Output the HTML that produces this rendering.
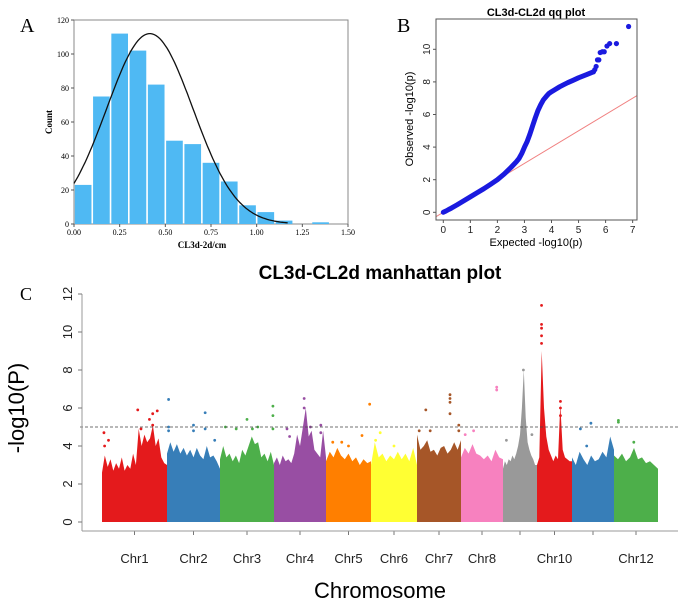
<!DOCTYPE html>
<html><head><meta charset="utf-8">
<style>
body{margin:0;background:#fff;width:685px;height:602px;overflow:hidden}
svg{display:block}
.ser{font-family:"Liberation Serif",serif}
.san{font-family:"Liberation Sans",sans-serif}
</style></head>
<body>
<svg id="fig" width="685" height="602" viewBox="0 0 685 602">
  <g id="panelA">
    <text class="ser" x="20" y="32" font-size="20">A</text>
    <rect x="74" y="20" width="274" height="204" fill="none" stroke="#888" stroke-width="1"/>
    <g id="histBars"></g>
    <path id="normCurve" fill="none" stroke="#111" stroke-width="1.3"/>
    <g id="histAxes" class="ser" font-size="8"></g>
    <text class="ser" x="52" y="122" font-size="9" font-weight="bold" text-anchor="middle" transform="rotate(-90 52 122)">Count</text>
    <text class="ser" x="202" y="248" font-size="9" font-weight="bold" text-anchor="middle">CL3d-2d/cm</text>
  </g>
  <g id="panelB">
    <text class="ser" x="397" y="32" font-size="20">B</text>
    <text class="san" x="536" y="16" font-size="11" font-weight="bold" text-anchor="middle">CL3d-CL2d qq plot</text>
    <clipPath id="qqclip"><rect x="436" y="19" width="201" height="201"/></clipPath>
    <line id="qqDiag" stroke="#f08080" stroke-width="1" clip-path="url(#qqclip)"/>
    <g id="qqPts"></g>
    <rect x="436" y="19" width="201" height="201" fill="none" stroke="#555" stroke-width="1"/>
    <g id="qqAxes" class="san" font-size="10" fill="#222"></g>
    <text class="san" x="413" y="119" font-size="11" text-anchor="middle" transform="rotate(-90 413 119)">Observed -log10(p)</text>
    <text class="san" x="536" y="246" font-size="11" text-anchor="middle">Expected -log10(p)</text>
  </g>
  <g id="panelC">
    <text class="ser" x="20" y="300" font-size="18">C</text>
    <text class="san" x="380" y="279" font-size="19" font-weight="bold" text-anchor="middle">CL3d-CL2d manhattan plot</text>
    <g id="manData"></g>
    <line x1="80" y1="427" x2="678" y2="427" stroke="#444" stroke-width="0.8" stroke-dasharray="3,2"/>
    <g id="manAxes" class="san" fill="#222"></g>
    <text class="san" x="24" y="408" font-size="22" text-anchor="middle" transform="rotate(-90 24 408)">-log10(P)</text>
    <text class="san" x="380" y="598" font-size="22" text-anchor="middle">Chromosome</text>
  </g>
</svg>
<script>
// ---- Panel A data ----
const histBinStarts = [0,0.1,0.2,0.3,0.4,0.5,0.6,0.7,0.8,0.9,1.0,1.1,1.2,1.3];
const histCounts = [23,75,112,102,82,49,47,36,25,11,7,2,0,1];
const histXTicks = ["0.00","0.25","0.50","0.75","1.00","1.25","1.50"];
const histYTicks = [0,20,40,60,80,100,120];
const normMean = 0.415, normSd = 0.236, normPeak = 112;

// ---- Panel B data ----
const qqExpected = [0,0.1,0.2,0.3,0.5,0.7,1,1.25,1.5,1.75,2,2.25,2.5,2.7,2.8,2.9,3,3.1,3.2,3.3,3.4,3.5,3.6,3.7,3.8,3.9,4,4.15,4.3,4.45,4.6,4.8,5,5.15,5.3,5.45,5.55,5.6,5.65,5.7,5.75,5.8,5.88,5.95,6.05,6.15,6.4,6.85];
const qqObserved = [0,0.08,0.17,0.26,0.45,0.65,0.95,1.2,1.45,1.72,2.0,2.35,2.75,3.1,3.3,3.6,4.0,4.35,4.8,5.3,5.8,6.25,6.6,6.9,7.1,7.28,7.4,7.55,7.7,7.83,7.95,8.1,8.25,8.35,8.45,8.55,8.62,8.75,8.95,9.35,9.35,9.8,9.85,9.85,10.2,10.35,10.35,11.4];
const qqXTicks = [0,1,2,3,4,5,6,7];
const qqYTicks = [0,2,4,6,8,10];

// ---- Panel C data ----
const chrNames = ["Chr1","Chr2","Chr3","Chr4","Chr5","Chr6","Chr7","Chr8","Chr9","Chr10","Chr11","Chr12"];
const chrLabelsShown = ["Chr1","Chr2","Chr3","Chr4","Chr5","Chr6","Chr7","Chr8","","Chr10","","Chr12"];
const chrLengths = [65,53,54,52,45,46,44,42,34,35,42,44];
const chrColors = ["#e41a1c","#377eb8","#4daf4a","#984ea3","#ff7f00","#ffff33","#a65628","#f781bf","#999999","#e41a1c","#377eb8","#4daf4a"];
const chrEnvelopes = [
 [2.6,3.5,2.9,3.3,2.7,3.1,2.8,3.4,2.7,3.0,2.8,3.6,3.0,4.9,4.0,4.6,4.2,4.4,5.1,4.0,4.4,3.4,3.1,3.0],
 [3.6,4.2,3.7,4.1,3.6,3.9,3.5,3.8,3.4,3.9,3.5,3.3,4.0,3.4,3.5,3.2,2.8],
 [3.3,4.0,3.4,3.6,3.2,3.5,3.1,3.8,3.5,4.0,4.5,4.1,4.2,3.4,3.6,3.2,3.7,3.0],
 [3.1,3.4,3.0,3.5,3.2,3.3,3.1,3.6,4.6,4.0,5.0,6.0,4.5,4.8,3.8,3.6,3.4,4.8,3.4],
 [3.2,3.7,3.4,3.9,3.5,3.3,3.6,3.2,3.4,3.0,3.3,3.1,3.2],
 [3.0,4.2,3.4,3.6,3.2,3.5,3.3,3.7,3.3,3.6,3.2,3.9,3.0],
 [4.6,3.8,4.0,4.3,3.7,3.8,3.5,3.9,4.0,3.6,3.8,4.2,3.8,4.3],
 [3.4,3.9,3.6,4.1,3.6,3.5,3.3,3.5,3.2,3.8,3.4,3.3],
 [2.8,3.2,3.0,3.3,3.2,3.5,3.3,3.6,4.0,4.6,6.0,8.0,5.5,4.2,3.8,3.5,3.3,3.0,3.0],
 [3.0,3.4,9.0,6.0,4.5,3.8,3.5,3.2,3.5,3.3,6.2,3.8,3.4,3.3,3.2,3.2],
 [3.4,3.0,3.7,3.3,3.0,3.5,3.2,3.3,3.7,3.4,4.5,3.8],
 [3.5,3.3,3.6,3.2,3.4,3.9,3.3,3.4,3.1,3.2,3.0,2.8]
];
const chrPeakPos = [
 [0.03,0.04,0.1,0.55,0.73,0.78,0.85,0.78,0.6],
 [0.03,0.03,0.03,0.5,0.5,0.72,0.72,0.9],
 [0.1,0.3,0.5,0.6,0.7,0.98,0.98,0.98],
 [0.25,0.3,0.58,0.58,0.7,0.9,0.9],
 [0.15,0.35,0.5,0.8,0.97],
 [0.1,0.2,0.5],
 [0.05,0.2,0.3,0.75,0.75,0.75,0.75,0.95,0.95],
 [0.1,0.3,0.85,0.85],
 [0.1,0.6,0.85],
 [0.13,0.13,0.13,0.13,0.13,0.2,0.67,0.67,0.67],
 [0.2,0.45,0.35],
 [0.1,0.1,0.45]
];
const chrPeakVal = [
 [4.7,4.0,4.3,5.9,5.4,5.7,5.85,5.1,4.9],
 [5.0,4.8,6.45,5.1,4.8,5.75,4.9,4.3],
 [5.0,4.9,5.4,4.9,5.0,6.1,5.6,4.9],
 [4.9,4.5,6.5,6.0,5.0,5.1,4.7],
 [4.2,4.2,4.0,4.55,6.2],
 [4.3,4.7,4.0],
 [4.8,5.9,4.8,6.7,6.5,6.3,5.7,5.1,4.8],
 [4.6,4.8,7.1,6.95],
 [4.3,8.0,4.6],
 [11.4,10.4,10.2,9.8,9.4,5.0,6.35,6.0,5.6],
 [4.9,5.2,4.0],
 [5.35,5.25,4.2]
];
const manYTicks = [0,2,4,6,8,10,12];

const NS = "http://www.w3.org/2000/svg";
function mk(tag, attrs, parent){ const e=document.createElementNS(NS,tag); for(const k in attrs) e.setAttribute(k,attrs[k]); parent.appendChild(e); return e; }

// ---- Panel A render ----
const ax = v => 74 + v/1.5*274;
const ay = v => 224 - v/120*204;
const hb = document.getElementById('histBars');
histCounts.forEach((c,i)=>{
  const r = mk('rect',{x:ax(histBinStarts[i])+0.8,y:ay(c),width:ax(0.1)-ax(0)-1.6,height:ay(0)-ay(c),fill:'#4fb9f3'},hb);
  
  
});
let d='';
for(let v=0; v<=1.18; v+=0.01){ const y=normPeak*Math.exp(-Math.pow(v-normMean,2)/(2*normSd*normSd)); d+=(d?'L':'M')+ax(v).toFixed(1)+','+ay(y).toFixed(1); }
document.getElementById('normCurve').setAttribute('d',d);
const ha = document.getElementById('histAxes');
histXTicks.forEach(t=>{ const x=ax(parseFloat(t));
  mk('line',{x1:x,y1:224,x2:x,y2:227,stroke:'#555'},ha);
  const tx=mk('text',{x:x,y:235,'text-anchor':'middle'},ha); tx.textContent=t;
    });
histYTicks.forEach(t=>{ const y=ay(t);
  mk('line',{x1:71,y1:y,x2:74,y2:y,stroke:'#555'},ha);
  const tx=mk('text',{x:69,y:y+3,'text-anchor':'end'},ha); tx.textContent=t;
    });

// ---- Panel B render ----
const qx = v => 443.3 + v*27.05;
const qy = v => 212.3 - v*16.3;
const dg = document.getElementById('qqDiag');
dg.setAttribute('x1',qx(-0.5)); dg.setAttribute('y1',qy(-0.5)); dg.setAttribute('x2',qx(7.5)); dg.setAttribute('y2',qy(7.5));
const qp = document.getElementById('qqPts');
let pd='';
for(let i=0;i<qqExpected.length;i++){
  if(i===0){ pd='M'+qx(qqExpected[0])+','+qy(qqObserved[0]); }
  else if(qqExpected[i]<=5.55){ pd+='L'+qx(qqExpected[i]).toFixed(1)+','+qy(qqObserved[i]).toFixed(1); }
}
const qpath = mk('path',{d:pd,fill:'none',stroke:'#1a1adf','stroke-width':5,'stroke-linecap':'round','stroke-linejoin':'round'},qp);


qqExpected.forEach((e,i)=>{ if(e>5.5){
  const c=mk('circle',{cx:qx(e),cy:qy(qqObserved[i]),r:2.6,fill:'#1a1adf'},qp);
    }});
const qa = document.getElementById('qqAxes');
qqXTicks.forEach(t=>{ const x=qx(t);
  mk('line',{x1:x,y1:220,x2:x,y2:223,stroke:'#555'},qa);
  const tx=mk('text',{x:x,y:233,'text-anchor':'middle'},qa); tx.textContent=t;
    });
qqYTicks.forEach(t=>{ const y=qy(t);
  mk('line',{x1:433,y1:y,x2:436,y2:y,stroke:'#555'},qa);
  const tx=mk('text',{x:430,y:y,'text-anchor':'middle',transform:`rotate(-90 430 ${y})`},qa); tx.textContent=t;
    });

// ---- Panel C render ----
const totalLen = chrLengths.reduce((a,b)=>a+b,0);
const mx = v => 102 + v/totalLen*556;
const my = v => 522 - v*19;
const md = document.getElementById('manData');
const ma = document.getElementById('manAxes');
let cum=0;
chrNames.forEach((name,ci)=>{
  const s=cum, L=chrLengths[ci]; cum+=L;
  const env=chrEnvelopes[ci], col=chrColors[ci];
  let p = mx(s).toFixed(1)+','+my(0)+' ';
  env.forEach((v,k)=>{
    const pos = s + L*k/(env.length-1);
    p += mx(pos).toFixed(1)+','+my(v).toFixed(1)+' ';
  });
  p += mx(s+L).toFixed(1)+','+my(0);
  const poly=mk('polygon',{points:p,fill:col},md);
  
  
  chrPeakPos[ci].forEach((rp,k)=>{
    const c=mk('circle',{cx:mx(s+L*rp),cy:my(chrPeakVal[ci][k]),r:1.4,fill:col},md);
    
    
  });
  const cx = mx(s+L/2);
  mk('line',{x1:cx,y1:531,x2:cx,y2:535,stroke:'#777'},ma);
  if(chrLabelsShown[ci]){
    const tx=mk('text',{x:cx,y:563,'font-size':13,'text-anchor':'middle'},ma); tx.textContent=chrLabelsShown[ci];
     
  }
});
mk('line',{x1:82,y1:531,x2:678,y2:531,stroke:'#999','stroke-width':1},ma);
mk('line',{x1:82,y1:my(12),x2:82,y2:531,stroke:'#999','stroke-width':1},ma);
manYTicks.forEach(t=>{ const y=my(t);
  mk('line',{x1:78,y1:y,x2:82,y2:y,stroke:'#777'},ma);
  const tx=mk('text',{x:72,y:y,'font-size':13,'text-anchor':'middle',transform:`rotate(-90 72 ${y})`},ma); tx.textContent=t;
    });
</script>
</body></html>
